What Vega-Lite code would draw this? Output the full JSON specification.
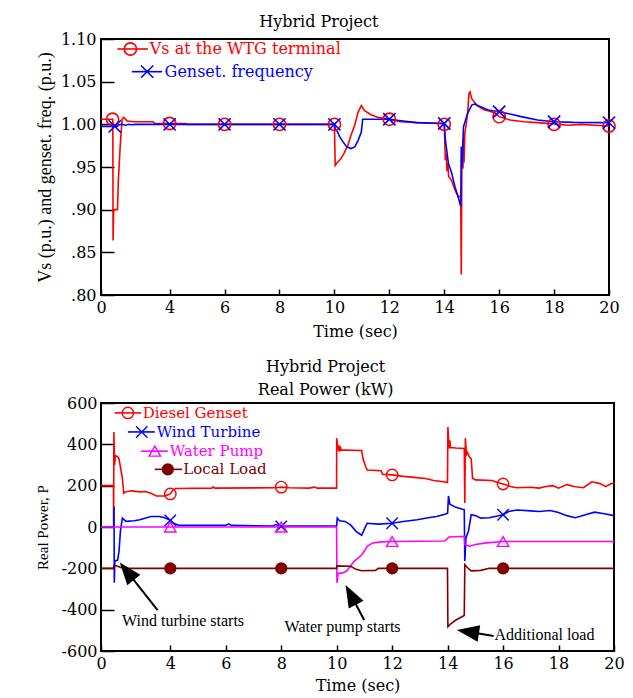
{
  "$schema": "https://vega.github.io/schema/vega-lite/v6.json",
  "background": "white",
  "padding": {"left": 34, "top": 13, "right": 5, "bottom": 0},
  "config": {
    "view": {"stroke": "black", "strokeWidth": 2},
    "axis": {"domain": false, "grid": false, "tickColor": "black", "tickWidth": 1.5, "labelFont": "DejaVu Serif", "labelFontSize": 16, "labelColor": "black", "titleFont": "DejaVu Serif", "titleFontSize": 16, "titleFontWeight": "normal", "titleColor": "black", "labelFlush": false},
    "title": {"font": "DejaVu Serif", "fontSize": 16, "fontWeight": "normal", "color": "black", "frame": "bounds", "anchor": "middle"}
  },
  "datasets": {
    "top_lines": [
      {"s":"Vs","t":1.5,"v":1.006},{"s":"Vs","t":1.93,"v":1.006},{"s":"Vs","t":1.94,"v":0.864},{"s":"Vs","t":1.96,"v":0.9},{"s":"Vs","t":2.1,"v":0.9},{"s":"Vs","t":2.13,"v":0.933},{"s":"Vs","t":2.2,"v":0.975},{"s":"Vs","t":2.27,"v":1.006},{"s":"Vs","t":2.33,"v":1.008},{"s":"Vs","t":2.45,"v":1.004},{"s":"Vs","t":2.7,"v":1.003},{"s":"Vs","t":3.4,"v":1.003},{"s":"Vs","t":3.45,"v":1.001},{"s":"Vs","t":4.6,"v":1.001},{"s":"Vs","t":4.65,"v":1.0},{"s":"Vs","t":10.0,"v":1.0},{"s":"Vs","t":10.03,"v":0.952},{"s":"Vs","t":10.1,"v":0.955},{"s":"Vs","t":10.24,"v":0.96},{"s":"Vs","t":10.35,"v":0.966},{"s":"Vs","t":10.49,"v":0.9755},{"s":"Vs","t":10.6,"v":0.987},{"s":"Vs","t":10.74,"v":0.999},{"s":"Vs","t":10.86,"v":1.014},{"s":"Vs","t":10.98,"v":1.022},{"s":"Vs","t":11.1,"v":1.016},{"s":"Vs","t":11.35,"v":1.011},{"s":"Vs","t":11.6,"v":1.008},{"s":"Vs","t":11.85,"v":1.007},{"s":"Vs","t":12.0,"v":1.006},{"s":"Vs","t":12.4,"v":1.003},{"s":"Vs","t":13.0,"v":1.002},{"s":"Vs","t":13.9,"v":1.001},{"s":"Vs","t":14.0,"v":1.0},{"s":"Vs","t":14.04,"v":0.958},{"s":"Vs","t":14.07,"v":0.965},{"s":"Vs","t":14.1,"v":0.945},{"s":"Vs","t":14.13,"v":0.955},{"s":"Vs","t":14.16,"v":0.939},{"s":"Vs","t":14.27,"v":0.934},{"s":"Vs","t":14.39,"v":0.923},{"s":"Vs","t":14.5,"v":0.916},{"s":"Vs","t":14.6,"v":0.915},{"s":"Vs","t":14.62,"v":0.824},{"s":"Vs","t":14.64,"v":0.945},{"s":"Vs","t":14.66,"v":0.97},{"s":"Vs","t":14.68,"v":0.948},{"s":"Vs","t":14.7,"v":0.985},{"s":"Vs","t":14.72,"v":0.955},{"s":"Vs","t":14.75,"v":0.99},{"s":"Vs","t":14.8,"v":1.0},{"s":"Vs","t":14.85,"v":1.013},{"s":"Vs","t":14.9,"v":1.036},{"s":"Vs","t":14.94,"v":1.038},{"s":"Vs","t":15.0,"v":1.03},{"s":"Vs","t":15.2,"v":1.022},{"s":"Vs","t":15.45,"v":1.017},{"s":"Vs","t":15.7,"v":1.015},{"s":"Vs","t":15.9,"v":1.012},{"s":"Vs","t":16.0,"v":1.009},{"s":"Vs","t":16.4,"v":1.005},{"s":"Vs","t":16.9,"v":1.003},{"s":"Vs","t":17.4,"v":1.002},{"s":"Vs","t":18.0,"v":1.0005},{"s":"Vs","t":18.5,"v":0.999},{"s":"Vs","t":19.0,"v":1.0},{"s":"Vs","t":19.5,"v":0.999},{"s":"Vs","t":20.0,"v":0.998},
      {"s":"Freq","t":1.5,"v":0.9976},{"s":"Freq","t":2.1,"v":0.9976},{"s":"Freq","t":2.12,"v":0.999},{"s":"Freq","t":2.25,"v":1.0},{"s":"Freq","t":2.4,"v":0.999},{"s":"Freq","t":2.5,"v":1.0},{"s":"Freq","t":2.6,"v":0.9995},{"s":"Freq","t":2.8,"v":1.0},{"s":"Freq","t":10.0,"v":1.0},{"s":"Freq","t":10.04,"v":0.993},{"s":"Freq","t":10.1,"v":0.992},{"s":"Freq","t":10.2,"v":0.985},{"s":"Freq","t":10.3,"v":0.98},{"s":"Freq","t":10.45,"v":0.9736},{"s":"Freq","t":10.6,"v":0.9716},{"s":"Freq","t":10.74,"v":0.9736},{"s":"Freq","t":10.86,"v":0.981},{"s":"Freq","t":10.98,"v":0.991},{"s":"Freq","t":11.03,"v":1.006},{"s":"Freq","t":12.0,"v":1.006},{"s":"Freq","t":12.5,"v":1.004},{"s":"Freq","t":13.0,"v":1.002},{"s":"Freq","t":14.0,"v":1.001},{"s":"Freq","t":14.04,"v":0.982},{"s":"Freq","t":14.15,"v":0.9545},{"s":"Freq","t":14.27,"v":0.943},{"s":"Freq","t":14.39,"v":0.927},{"s":"Freq","t":14.5,"v":0.9156},{"s":"Freq","t":14.6,"v":0.904},{"s":"Freq","t":14.62,"v":0.974},{"s":"Freq","t":14.65,"v":0.95},{"s":"Freq","t":14.7,"v":0.997},{"s":"Freq","t":14.85,"v":1.0128},{"s":"Freq","t":15.0,"v":1.0226},{"s":"Freq","t":15.1,"v":1.0237},{"s":"Freq","t":15.6,"v":1.0167},{"s":"Freq","t":16.0,"v":1.0148},{"s":"Freq","t":16.3,"v":1.0128},{"s":"Freq","t":16.8,"v":1.009},{"s":"Freq","t":17.4,"v":1.005},{"s":"Freq","t":18.0,"v":1.003},{"s":"Freq","t":18.7,"v":1.0023},{"s":"Freq","t":20.0,"v":1.002}
    ],
    "top_marks": [
      {"s":"Vs","t":1.92,"v":1.006},{"s":"Vs","t":4,"v":1.001},{"s":"Vs","t":6,"v":1.0},{"s":"Vs","t":8,"v":1.0},{"s":"Vs","t":10,"v":1.0},{"s":"Vs","t":12,"v":1.006},{"s":"Vs","t":14,"v":1.0},{"s":"Vs","t":16,"v":1.009},{"s":"Vs","t":18,"v":1.0},{"s":"Vs","t":20,"v":0.998},{"s":"Vs","t":2.57,"v":1.0883},
      {"s":"Freq","t":2.0,"v":0.9976},{"s":"Freq","t":4,"v":1.0},{"s":"Freq","t":6,"v":1.0},{"s":"Freq","t":8,"v":1.0},{"s":"Freq","t":10,"v":1.0},{"s":"Freq","t":12,"v":1.006},{"s":"Freq","t":14,"v":1.001},{"s":"Freq","t":16,"v":1.0148},{"s":"Freq","t":18,"v":1.003},{"s":"Freq","t":20,"v":1.002},{"s":"Freq","t":3.18,"v":1.0617}
    ],
    "top_leg_lines": [
      {"s":"Vs","t":2.1,"t2":3.21,"v":1.0883},
      {"s":"Freq","t":2.62,"t2":3.73,"v":1.0617}
    ],
    "top_leg_text": [
      {"s":"Vs","label":"Vs at the WTG terminal","t":3.24,"v":1.0883},
      {"s":"Freq","label":"Genset. frequency","t":3.78,"v":1.0617}
    ],
    "bot_lines": [
      {"s":"Diesel","t":1.5,"v":200},{"s":"Diesel","t":1.95,"v":200},{"s":"Diesel","t":1.955,"v":0},{"s":"Diesel","t":1.965,"v":460},{"s":"Diesel","t":1.99,"v":300},{"s":"Diesel","t":2.02,"v":345},{"s":"Diesel","t":2.1,"v":340},{"s":"Diesel","t":2.15,"v":330},{"s":"Diesel","t":2.2,"v":290},{"s":"Diesel","t":2.27,"v":236},{"s":"Diesel","t":2.32,"v":163},{"s":"Diesel","t":2.4,"v":171},{"s":"Diesel","t":2.6,"v":175},{"s":"Diesel","t":2.9,"v":170},{"s":"Diesel","t":3.1,"v":172},{"s":"Diesel","t":3.3,"v":163},{"s":"Diesel","t":3.5,"v":150},{"s":"Diesel","t":3.8,"v":150},{"s":"Diesel","t":3.9,"v":155},{"s":"Diesel","t":4.0,"v":160},{"s":"Diesel","t":4.1,"v":180},{"s":"Diesel","t":4.2,"v":186},{"s":"Diesel","t":5.5,"v":188},{"s":"Diesel","t":5.55,"v":194},{"s":"Diesel","t":5.6,"v":188},{"s":"Diesel","t":7.8,"v":190},{"s":"Diesel","t":8.0,"v":193},{"s":"Diesel","t":8.3,"v":190},{"s":"Diesel","t":9.0,"v":188},{"s":"Diesel","t":9.2,"v":193},{"s":"Diesel","t":9.3,"v":188},{"s":"Diesel","t":9.995,"v":188},{"s":"Diesel","t":10.0,"v":430},{"s":"Diesel","t":10.05,"v":370},{"s":"Diesel","t":10.08,"v":395},{"s":"Diesel","t":10.1,"v":365},{"s":"Diesel","t":10.13,"v":390},{"s":"Diesel","t":10.16,"v":372},{"s":"Diesel","t":10.3,"v":372},{"s":"Diesel","t":10.9,"v":370},{"s":"Diesel","t":10.95,"v":330},{"s":"Diesel","t":11.05,"v":290},{"s":"Diesel","t":11.1,"v":276},{"s":"Diesel","t":11.6,"v":272},{"s":"Diesel","t":11.65,"v":255},{"s":"Diesel","t":12.0,"v":252},{"s":"Diesel","t":12.4,"v":245},{"s":"Diesel","t":12.8,"v":240},{"s":"Diesel","t":13.2,"v":235},{"s":"Diesel","t":13.5,"v":225},{"s":"Diesel","t":13.85,"v":219},{"s":"Diesel","t":13.995,"v":215},{"s":"Diesel","t":14.01,"v":484},{"s":"Diesel","t":14.05,"v":380},{"s":"Diesel","t":14.08,"v":420},{"s":"Diesel","t":14.1,"v":385},{"s":"Diesel","t":14.3,"v":382},{"s":"Diesel","t":14.6,"v":380},{"s":"Diesel","t":14.62,"v":116},{"s":"Diesel","t":14.64,"v":430},{"s":"Diesel","t":14.68,"v":350},{"s":"Diesel","t":14.72,"v":360},{"s":"Diesel","t":14.78,"v":340},{"s":"Diesel","t":14.85,"v":330},{"s":"Diesel","t":14.9,"v":236},{"s":"Diesel","t":15.0,"v":228},{"s":"Diesel","t":15.6,"v":225},{"s":"Diesel","t":15.8,"v":215},{"s":"Diesel","t":16.0,"v":208},{"s":"Diesel","t":16.3,"v":195},{"s":"Diesel","t":16.5,"v":190},{"s":"Diesel","t":17.0,"v":192},{"s":"Diesel","t":17.3,"v":188},{"s":"Diesel","t":17.5,"v":195},{"s":"Diesel","t":17.8,"v":200},{"s":"Diesel","t":18.0,"v":188},{"s":"Diesel","t":18.3,"v":205},{"s":"Diesel","t":18.6,"v":195},{"s":"Diesel","t":18.9,"v":190},{"s":"Diesel","t":19.2,"v":219},{"s":"Diesel","t":19.5,"v":210},{"s":"Diesel","t":19.7,"v":195},{"s":"Diesel","t":19.9,"v":210},{"s":"Diesel","t":20.0,"v":212},
      {"s":"Wind","t":1.5,"v":0},{"s":"Wind","t":1.96,"v":0},{"s":"Wind","t":1.97,"v":99},{"s":"Wind","t":1.98,"v":-270},{"s":"Wind","t":2.0,"v":-165},{"s":"Wind","t":2.1,"v":-160},{"s":"Wind","t":2.15,"v":-117},{"s":"Wind","t":2.2,"v":-21},{"s":"Wind","t":2.27,"v":43},{"s":"Wind","t":2.4,"v":27},{"s":"Wind","t":2.7,"v":30},{"s":"Wind","t":2.9,"v":35},{"s":"Wind","t":3.3,"v":51},{"s":"Wind","t":3.6,"v":51},{"s":"Wind","t":3.8,"v":45},{"s":"Wind","t":4.0,"v":32},{"s":"Wind","t":4.1,"v":20},{"s":"Wind","t":4.3,"v":8},{"s":"Wind","t":6.0,"v":8},{"s":"Wind","t":6.1,"v":15},{"s":"Wind","t":6.2,"v":8},{"s":"Wind","t":7.7,"v":5},{"s":"Wind","t":7.8,"v":12},{"s":"Wind","t":8.0,"v":3},{"s":"Wind","t":8.3,"v":5},{"s":"Wind","t":9.995,"v":5},{"s":"Wind","t":10.02,"v":43},{"s":"Wind","t":10.1,"v":30},{"s":"Wind","t":10.3,"v":27},{"s":"Wind","t":10.5,"v":10},{"s":"Wind","t":10.7,"v":-21},{"s":"Wind","t":10.9,"v":-40},{"s":"Wind","t":11.05,"v":5},{"s":"Wind","t":11.1,"v":18},{"s":"Wind","t":11.5,"v":14},{"s":"Wind","t":12.0,"v":18},{"s":"Wind","t":12.4,"v":27},{"s":"Wind","t":12.9,"v":35},{"s":"Wind","t":13.3,"v":45},{"s":"Wind","t":13.6,"v":51},{"s":"Wind","t":13.9,"v":62},{"s":"Wind","t":14.0,"v":67},{"s":"Wind","t":14.03,"v":150},{"s":"Wind","t":14.08,"v":110},{"s":"Wind","t":14.3,"v":95},{"s":"Wind","t":14.6,"v":83},{"s":"Wind","t":14.62,"v":-165},{"s":"Wind","t":14.66,"v":-53},{"s":"Wind","t":14.75,"v":-21},{"s":"Wind","t":14.85,"v":59},{"s":"Wind","t":15.0,"v":55},{"s":"Wind","t":15.2,"v":43},{"s":"Wind","t":15.5,"v":45},{"s":"Wind","t":16.0,"v":59},{"s":"Wind","t":16.2,"v":75},{"s":"Wind","t":16.5,"v":82},{"s":"Wind","t":17.0,"v":78},{"s":"Wind","t":17.3,"v":75},{"s":"Wind","t":17.7,"v":80},{"s":"Wind","t":18.0,"v":70},{"s":"Wind","t":18.3,"v":55},{"s":"Wind","t":18.6,"v":45},{"s":"Wind","t":19.0,"v":60},{"s":"Wind","t":19.3,"v":72},{"s":"Wind","t":19.6,"v":65},{"s":"Wind","t":20.0,"v":55},
      {"s":"Pump","t":1.5,"v":0},{"s":"Pump","t":9.995,"v":0},{"s":"Pump","t":10.01,"v":-270},{"s":"Pump","t":10.05,"v":-225},{"s":"Pump","t":10.2,"v":-222},{"s":"Pump","t":10.35,"v":-214},{"s":"Pump","t":10.63,"v":-166},{"s":"Pump","t":10.92,"v":-133},{"s":"Pump","t":11.1,"v":-93},{"s":"Pump","t":11.3,"v":-77},{"s":"Pump","t":11.6,"v":-72},{"s":"Pump","t":12.0,"v":-70},{"s":"Pump","t":13.9,"v":-68},{"s":"Pump","t":14.0,"v":-55},{"s":"Pump","t":14.05,"v":-48},{"s":"Pump","t":14.6,"v":-45},{"s":"Pump","t":14.62,"v":-85},{"s":"Pump","t":14.8,"v":-93},{"s":"Pump","t":15.0,"v":-85},{"s":"Pump","t":15.4,"v":-77},{"s":"Pump","t":16.0,"v":-70},{"s":"Pump","t":20.0,"v":-70},
      {"s":"Load","t":1.5,"v":-200},{"s":"Load","t":1.95,"v":-200},{"s":"Load","t":1.97,"v":-185},{"s":"Load","t":2.1,"v":-190},{"s":"Load","t":2.3,"v":-200},{"s":"Load","t":9.995,"v":-200},{"s":"Load","t":10.01,"v":-188},{"s":"Load","t":10.5,"v":-190},{"s":"Load","t":10.7,"v":-205},{"s":"Load","t":10.9,"v":-212},{"s":"Load","t":11.4,"v":-210},{"s":"Load","t":11.5,"v":-200},{"s":"Load","t":13.995,"v":-200},{"s":"Load","t":14.01,"v":-483},{"s":"Load","t":14.1,"v":-470},{"s":"Load","t":14.3,"v":-450},{"s":"Load","t":14.6,"v":-428},{"s":"Load","t":14.62,"v":-182},{"s":"Load","t":14.7,"v":-195},{"s":"Load","t":14.85,"v":-212},{"s":"Load","t":15.2,"v":-210},{"s":"Load","t":15.5,"v":-200},{"s":"Load","t":20.0,"v":-200}
    ],
    "bot_marks": [
      {"s":"Diesel","t":4,"v":160},{"s":"Diesel","t":8,"v":193},{"s":"Diesel","t":12,"v":252},{"s":"Diesel","t":16,"v":208},{"s":"Diesel","t":2.47,"v":552},
      {"s":"Wind","t":4,"v":32},{"s":"Wind","t":8,"v":3},{"s":"Wind","t":12,"v":18},{"s":"Wind","t":16,"v":59},{"s":"Wind","t":2.97,"v":460},
      {"s":"Pump","t":4,"v":0},{"s":"Pump","t":8,"v":0},{"s":"Pump","t":12,"v":-70},{"s":"Pump","t":16,"v":-70},{"s":"Pump","t":3.44,"v":367},
      {"s":"Load","t":4,"v":-200},{"s":"Load","t":8,"v":-200},{"s":"Load","t":12,"v":-200},{"s":"Load","t":16,"v":-200},{"s":"Load","t":3.91,"v":279}
    ],
    "bot_leg_lines": [
      {"s":"Diesel","t":1.99,"t2":2.945,"v":552},
      {"s":"Wind","t":2.47,"t2":3.44,"v":460},
      {"s":"Pump","t":2.945,"t2":3.91,"v":367},
      {"s":"Load","t":3.44,"t2":4.42,"v":279}
    ],
    "bot_leg_text": [
      {"s":"Diesel","label":"Diesel Genset","t":2.97,"v":552},
      {"s":"Wind","label":"Wind Turbine","t":3.47,"v":460},
      {"s":"Pump","label":"Water Pump","t":3.94,"v":367},
      {"s":"Load","label":"Local Load","t":4.43,"v":279}
    ],
    "ann_text": [
      {"label":"Wind turbine starts","t":2.26,"v":-480},
      {"label":"Water pump starts","t":8.12,"v":-508},
      {"label":"Additional load","t":15.69,"v":-545}
    ],
    "ann_lines": [
      {"label":"Wind turbine starts","t":2.43,"v":-214,"t2":3.54,"v2":-402},
      {"label":"Water pump starts","t":10.51,"v":-328,"t2":10.99,"v2":-450},
      {"label":"Additional load","t":14.73,"v":-507,"t2":15.66,"v2":-527}
    ],
    "ann_heads": [
      {"label":"Wind turbine starts","t":2.43,"v":-214},
      {"label":"Water pump starts","t":10.51,"v":-328},
      {"label":"Additional load","t":14.73,"v":-507}
    ]
  },
  "resolve": {"scale": {"color": "independent", "shape": "independent"}},
  "concat": [
    {
      "width": 508,
      "height": 256,
      "title": {"text": "Hybrid Project", "offset": 1, "dx": -9},
      "encoding": {
        "x": {"field": "t", "type": "quantitative", "scale": {"domain": [1.5, 20], "nice": false, "zero": false},
              "axis": {"title": "Time (sec)", "values": [1.5, 4, 6, 8, 10, 12, 14, 16, 18, 20], "labelExpr": "datum.value < 2 ? '0' : datum.label", "tickSize": -6, "labelPadding": 10, "titlePadding": 8}},
        "y": {"field": "v", "type": "quantitative", "scale": {"domain": [0.8, 1.1], "nice": false, "zero": false},
              "axis": {"title": "Vs (p.u.) and genset. freq. (p.u.)", "values": [0.8, 0.85, 0.9, 0.95, 1.0, 1.05, 1.1], "labelExpr": "datum.value < 0.99 ? replace(format(datum.value, '.2f'), '0.', '.') : format(datum.value, '.2f')", "tickSize": -13, "labelPadding": 18, "titleFont": "Liberation Serif", "titleFontSize": 18, "titlePadding": 6}},
        "color": {"field": "s", "type": "nominal", "scale": {"domain": ["Vs", "Freq"], "range": ["#ff0000", "#0000ff"]}, "legend": null}
      },
      "layer": [
        {"data": {"name": "top_lines"}, "mark": {"type": "line", "strokeWidth": 1.6, "clip": true}},
        {"data": {"name": "top_marks"}, "mark": {"type": "point", "filled": false, "strokeWidth": 1.6, "size": 150, "opacity": 1},
         "encoding": {"shape": {"field": "s", "type": "nominal", "scale": {"domain": ["Vs", "Freq"], "range": ["circle", "M-1,-1L1,1M1,-1L-1,1"]}, "legend": null}}},
        {"data": {"name": "top_leg_lines"}, "mark": {"type": "rule", "strokeWidth": 1.6}, "encoding": {"x2": {"field": "t2"}}},
        {"data": {"name": "top_leg_text"}, "mark": {"type": "text", "align": "left", "baseline": "middle", "font": "DejaVu Serif", "fontSize": 16, "dx": 1}, "encoding": {"text": {"field": "label"}}}
      ]
    },
    {
      "width": 513,
      "height": 248,
      "title": {"text": ["Hybrid Project", "Real Power (kW)"], "offset": -3, "lineHeight": 23, "dx": -4},
      "encoding": {
        "x": {"field": "t", "type": "quantitative", "scale": {"domain": [1.5, 20], "nice": false, "zero": false},
              "axis": {"title": "Time (sec)", "values": [1.5, 4, 6, 8, 10, 12, 14, 16, 18, 20], "labelExpr": "datum.value < 2 ? '0' : datum.label", "tickSize": -6, "labelPadding": 10, "titlePadding": 6}},
        "y": {"field": "v", "type": "quantitative", "scale": {"domain": [-600, 600], "nice": false, "zero": false},
              "axis": {"title": "Real Power, P", "values": [-600, -400, -200, 0, 200, 400, 600], "labelExpr": "datum.value < 0 ? '-' + format(-datum.value, 'd') : format(datum.value, 'd')", "tickSize": -13, "labelPadding": 17, "titleFont": "Liberation Serif", "titleFontSize": 15, "titlePadding": 11}},
        "color": {"field": "s", "type": "nominal", "scale": {"domain": ["Diesel", "Wind", "Pump", "Load"], "range": ["#ff0000", "#0000ff", "#ff00ff", "#800000"]}, "legend": null}
      },
      "layer": [
        {"data": {"name": "bot_lines"}, "mark": {"type": "line", "strokeWidth": 1.6, "clip": true}},
        {"data": {"name": "bot_marks"}, "transform": [{"filter": "datum.s != 'Load'"}], "mark": {"type": "point", "filled": false, "strokeWidth": 1.4, "size": 130, "opacity": 1},
         "encoding": {"shape": {"field": "s", "type": "nominal", "scale": {"domain": ["Diesel", "Wind", "Pump"], "range": ["circle", "M-1,-1L1,1M1,-1L-1,1", "triangle-up"]}, "legend": null}}},
        {"data": {"name": "bot_marks"}, "transform": [{"filter": "datum.s == 'Load'"}], "mark": {"type": "circle", "size": 150, "opacity": 1}},
        {"data": {"name": "bot_leg_lines"}, "mark": {"type": "rule", "strokeWidth": 1.6}, "encoding": {"x2": {"field": "t2"}}},
        {"data": {"name": "bot_leg_text"}, "mark": {"type": "text", "align": "left", "baseline": "middle", "font": "DejaVu Serif", "fontSize": 15, "dx": 1}, "encoding": {"text": {"field": "label"}}},
        {"data": {"name": "ann_lines"}, "mark": {"type": "rule", "strokeWidth": 2}, "encoding": {"x2": {"field": "t2"}, "y2": {"field": "v2"}, "color": {"value": "black"}}},
        {"data": {"name": "ann_heads"}, "transform": [{"filter": "datum.label == 'Wind turbine starts'"}], "mark": {"type": "point", "shape": "M0,-1L0.75,1L-0.75,1Z", "filled": true, "size": 500, "angle": 321, "opacity": 1}, "encoding": {"color": {"value": "black"}}},
        {"data": {"name": "ann_heads"}, "transform": [{"filter": "datum.label == 'Water pump starts'"}], "mark": {"type": "point", "shape": "M0,-1L0.75,1L-0.75,1Z", "filled": true, "size": 500, "angle": 332, "opacity": 1}, "encoding": {"color": {"value": "black"}}},
        {"data": {"name": "ann_heads"}, "transform": [{"filter": "datum.label == 'Additional load'"}], "mark": {"type": "point", "shape": "M0,-1L0.75,1L-0.75,1Z", "filled": true, "size": 500, "angle": 279, "opacity": 1}, "encoding": {"color": {"value": "black"}}},
        {"data": {"name": "ann_text"}, "mark": {"type": "text", "align": "left", "baseline": "alphabetic", "font": "Liberation Serif", "fontSize": 16}, "encoding": {"text": {"field": "label"}, "color": {"value": "black"}}}
      ]
    }
  ],
  "columns": 1,
  "spacing": 18
}
